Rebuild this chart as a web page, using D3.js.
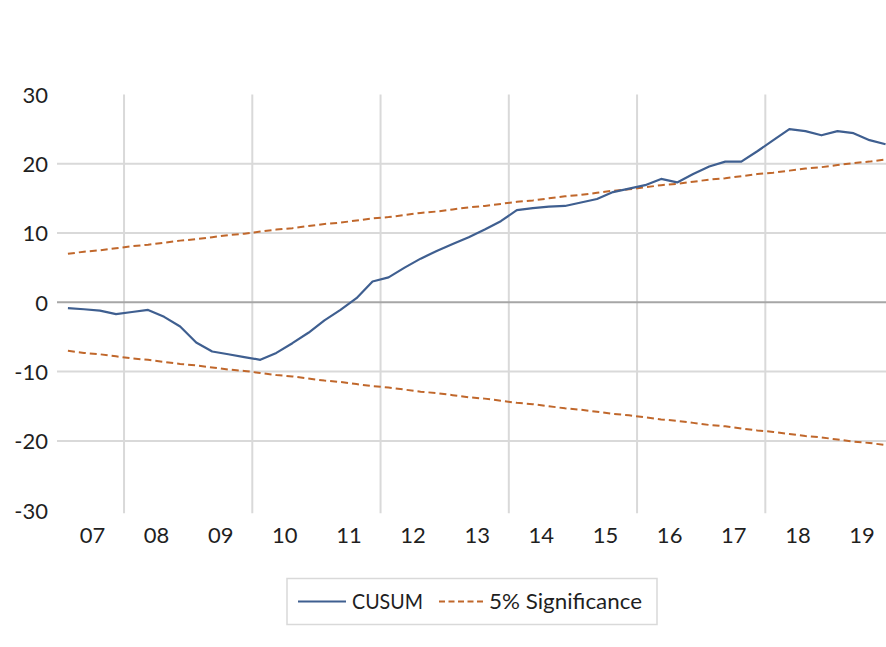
<!DOCTYPE html>
<html>
<head>
<meta charset="utf-8">
<script src="https://cdn.jsdelivr.net/npm/d3@7"></script>
<style>
  html, body { margin: 0; padding: 0; background: #ffffff; }
  svg { display: block; }
  text { font-family: Lato, "Open Sans", sans-serif; fill: #1f1f1f; }
</style>
</head>
<body>
<svg id="chart" width="886" height="647"></svg>
<script>
// ---- data ----
const quarters = [
  "2007Q1","2007Q2","2007Q3","2007Q4","2008Q1","2008Q2","2008Q3","2008Q4",
  "2009Q1","2009Q2","2009Q3","2009Q4","2010Q1","2010Q2","2010Q3","2010Q4",
  "2011Q1","2011Q2","2011Q3","2011Q4","2012Q1","2012Q2","2012Q3","2012Q4",
  "2013Q1","2013Q2","2013Q3","2013Q4","2014Q1","2014Q2","2014Q3","2014Q4",
  "2015Q1","2015Q2","2015Q3","2015Q4","2016Q1","2016Q2","2016Q3","2016Q4",
  "2017Q1","2017Q2","2017Q3","2017Q4","2018Q1","2018Q2","2018Q3","2018Q4",
  "2019Q1","2019Q2","2019Q3","2019Q4"
];
const cusum = [
  -0.85, -1.0, -1.2, -1.7, -1.4, -1.1, -2.1, -3.5,
  -5.8, -7.1, -7.5, -7.9, -8.3, -7.3, -5.9, -4.4,
  -2.6, -1.1, 0.6, 3.0, 3.6, 5.0, 6.3, 7.4,
  8.4, 9.4, 10.5, 11.7, 13.3, 13.6, 13.8, 13.9,
  14.4, 14.9, 15.9, 16.4, 16.9, 17.8, 17.3, 18.5,
  19.6, 20.3, 20.3, 21.8, 23.4, 25.0, 24.7, 24.1,
  24.7, 24.4, 23.4, 22.8
];
const sigUpper = [
  7.0, 7.3, 7.5, 7.8, 8.1, 8.3, 8.6, 8.9, 9.1, 9.4, 9.7, 9.9, 10.2,
  10.5, 10.7, 11.0, 11.3, 11.5, 11.8, 12.1, 12.3, 12.6, 12.9, 13.1, 13.4, 13.7,
  13.9, 14.2, 14.5, 14.7, 15.0, 15.3, 15.5, 15.8, 16.1, 16.3, 16.6, 16.9, 17.1,
  17.4, 17.7, 17.9, 18.2, 18.5, 18.7, 19.0, 19.3, 19.5, 19.8, 20.1, 20.3, 20.6
];
const sigLower = [
  -7.0, -7.3, -7.5, -7.8, -8.1, -8.3, -8.6, -8.9, -9.1, -9.4, -9.7, -9.9, -10.2,
  -10.5, -10.7, -11.0, -11.3, -11.5, -11.8, -12.1, -12.3, -12.6, -12.9, -13.1, -13.4, -13.7,
  -13.9, -14.2, -14.5, -14.7, -15.0, -15.3, -15.5, -15.8, -16.1, -16.3, -16.6, -16.9, -17.1,
  -17.4, -17.7, -17.9, -18.2, -18.5, -18.7, -19.0, -19.3, -19.5, -19.8, -20.1, -20.3, -20.6
];
const yearLabels = ["07","08","09","10","11","12","13","14","15","16","17","18","19"];
const yTicks = [30, 20, 10, 0, -10, -20, -30];
const seriesNames = ["CUSUM", "5% Significance"];

// ---- layout ----
const svg = d3.select("#chart");
const W = 886;
const plotLeft = 57, plotTop = 94.4, plotBottom = 510.2;

// time position of a quarter label (centre of the quarter)
const qTime = q => +q.slice(0, 4) + (+q.slice(5) - 0.5) / 4;

const x = d3.scaleLinear().domain([2007, 2020]).range([59.9, 59.9 + 13 * 64.13]);
const y = d3.scaleLinear().domain([-30, 30]).range([plotBottom, plotTop]);

// horizontal gridlines
svg.append("g").selectAll("line")
  .data(yTicks.filter(v => v !== 0 && Math.abs(v) < 30))
  .join("line")
  .attr("x1", plotLeft).attr("x2", W)
  .attr("y1", d => y(d)).attr("y2", d => y(d))
  .attr("stroke", "#d9d9d9").attr("stroke-width", 2);

// vertical gridlines every two years
const vYears = yearLabels.map(s => 2000 + +s).filter(yv => yv % 2 === 0);
svg.append("g").selectAll("line")
  .data(vYears)
  .join("line")
  .attr("x1", d => x(d)).attr("x2", d => x(d))
  .attr("y1", plotTop).attr("y2", plotBottom + 3)
  .attr("stroke", "#d9d9d9").attr("stroke-width", 2);

// zero axis line
svg.append("line")
  .attr("x1", plotLeft).attr("x2", W)
  .attr("y1", y(0)).attr("y2", y(0))
  .attr("stroke", "#a6a6a6").attr("stroke-width", 2);

// y axis labels
const yAxis = d3.axisLeft(y).tickValues(yTicks).tickFormat(d => String(d)).tickSize(0).tickPadding(0);
const gy = svg.append("g").attr("transform", "translate(48,0)").call(yAxis);
gy.select(".domain").remove();
gy.selectAll("text")
  .attr("font-family", "Lato, 'Open Sans', sans-serif")
  .attr("font-size", 22).attr("fill", "#1f1f1f")
  .attr("dy", "0.36em");

// x axis labels
const xAxis = d3.axisBottom(x)
  .tickValues(yearLabels.map(s => 2000 + +s + 0.5))
  .tickFormat((d, i) => yearLabels[i])
  .tickSize(0).tickPadding(0);
const gx = svg.append("g").attr("transform", "translate(0,525)").call(xAxis);
gx.select(".domain").remove();
gx.selectAll("text")
  .attr("font-family", "Lato, 'Open Sans', sans-serif")
  .attr("font-size", 22).attr("fill", "#1f1f1f")
  .attr("dy", "0.8em");

// lines
const line = d3.line().x((d, i) => x(qTime(quarters[i]))).y(d => y(d));
const blue = "#3f5f90", orange = "#c0672b";

svg.append("path").datum(sigUpper)
  .attr("d", line).attr("fill", "none")
  .attr("stroke", orange).attr("stroke-width", 2)
  .attr("stroke-dasharray", "7,4");
svg.append("path").datum(sigLower)
  .attr("d", line).attr("fill", "none")
  .attr("stroke", orange).attr("stroke-width", 2)
  .attr("stroke-dasharray", "7,4");
svg.append("path").datum(cusum)
  .attr("d", line).attr("fill", "none")
  .attr("stroke", blue).attr("stroke-width", 2.2)
  .attr("stroke-linejoin", "round");

// legend
const lg = svg.append("g");
lg.append("rect")
  .attr("x", 287).attr("y", 578.5).attr("width", 370).attr("height", 46)
  .attr("fill", "#fff").attr("stroke", "#d9d9d9").attr("stroke-width", 1.5);
lg.append("line").attr("x1", 298).attr("x2", 346).attr("y1", 601.5).attr("y2", 601.5)
  .attr("stroke", blue).attr("stroke-width", 2.2);
lg.append("text").attr("x", 352).attr("y", 601.5).attr("dy", "0.36em")
  .attr("font-size", 20.5).attr("textLength", 71).attr("lengthAdjust", "spacingAndGlyphs")
  .text(seriesNames[0]);
lg.append("line").attr("x1", 439).attr("x2", 484).attr("y1", 601.5).attr("y2", 601.5)
  .attr("stroke", orange).attr("stroke-width", 2).attr("stroke-dasharray", "6,3.5");
lg.append("text").attr("x", 489).attr("y", 601.5).attr("dy", "0.36em")
  .attr("font-size", 20.5).attr("textLength", 153).attr("lengthAdjust", "spacingAndGlyphs")
  .text(seriesNames[1]);
</script>
</body>
</html>
